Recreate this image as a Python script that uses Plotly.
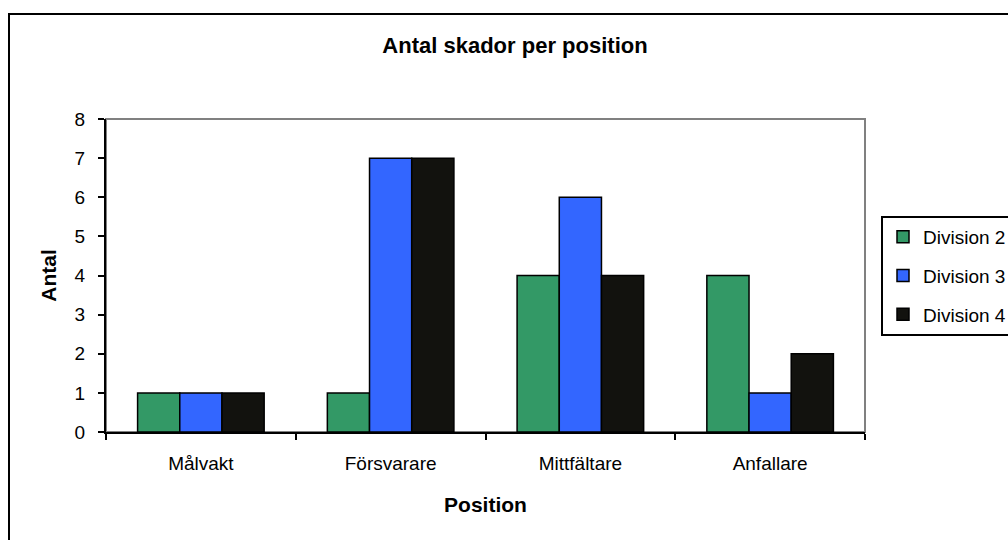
import plotly.graph_objects as go

positions = ["Målvakt", "Försvarare", "Mittfältare", "Anfallare"]
division_2 = [1, 1, 4, 4]
division_3 = [1, 7, 6, 1]
division_4 = [1, 7, 4, 2]
series_names = ["Division 2", "Division 3", "Division 4"]
series_colors = ["#339966", "#3366FF", "#12120E"]

FONT = "Liberation Sans, Arial, sans-serif"

fig = go.Figure()
for name, vals, color in zip(series_names, [division_2, division_3, division_4], series_colors):
    fig.add_trace(go.Bar(
        x=positions, y=vals, name=name, legendgroup=name,
        marker=dict(color=color, line=dict(color="#000000", width=1.5)),
    ))

# plot area is 106..865 px horizontally, 119..432 px vertically
L, R, T, B = 106, 865, 119, 432
W, H = 1008, 540
pw, ph = R - L, B - T


def px_x(p):
    return (p - L) / pw


def px_y(p):
    return (B - p) / ph


fig.update_layout(
    width=W, height=H,
    margin=dict(l=L, r=W - R, t=T, b=H - B, pad=0, autoexpand=False),
    paper_bgcolor="white", plot_bgcolor="white",
    barmode="group", bargap=0.333, bargroupgap=0,
    font=dict(family=FONT, size=19, color="#000000"),
    title=dict(
        text="<b>Antal skador per position</b>",
        font=dict(family=FONT, size=22, color="#000000"),
        xref="container", x=515 / W, xanchor="center",
        yref="container", y=1 - 45 / H, yanchor="middle",
    ),
    xaxis=dict(
        showline=True, linecolor="#000000", linewidth=2,
        ticks="outside", tickson="boundaries", ticklen=6, tickwidth=2, tickcolor="#000000",
        ticklabelstandoff=13,
        title=dict(text="<b>Position</b>", font=dict(family=FONT, size=21), standoff=25),
        showgrid=False, zeroline=False,
    ),
    yaxis=dict(
        range=[0, 8], dtick=1, tick0=0,
        showline=True, linecolor="#000000", linewidth=2,
        ticks="outside", ticklen=6, tickwidth=2, tickcolor="#000000",
        ticklabelstandoff=9,
        title=dict(text="<b>Antal</b>", font=dict(family=FONT, size=21), standoff=12),
        showgrid=False, zeroline=False,
    ),
    legend=dict(
        x=px_x(881), y=px_y(216), xanchor="left", yanchor="top",
        bordercolor="#000000", borderwidth=2, bgcolor="white",
        font=dict(family=FONT, size=19),
        traceorder="grouped", tracegroupgap=11,
        itemclick=False,
    ),
    shapes=[
        # gray plot-area frame
        dict(type="rect", xref="paper", yref="paper", x0=0, x1=1, y0=0, y1=1,
             line=dict(color="#808080", width=2), layer="below"),
        # chart-area frame, running off the right and bottom edges
        dict(type="rect", xref="paper", yref="paper",
             x0=px_x(9), x1=px_x(1030), y0=px_y(560), y1=px_y(14),
             line=dict(color="#000000", width=2), layer="below"),
    ],
)

fig.write_html("out.html")
